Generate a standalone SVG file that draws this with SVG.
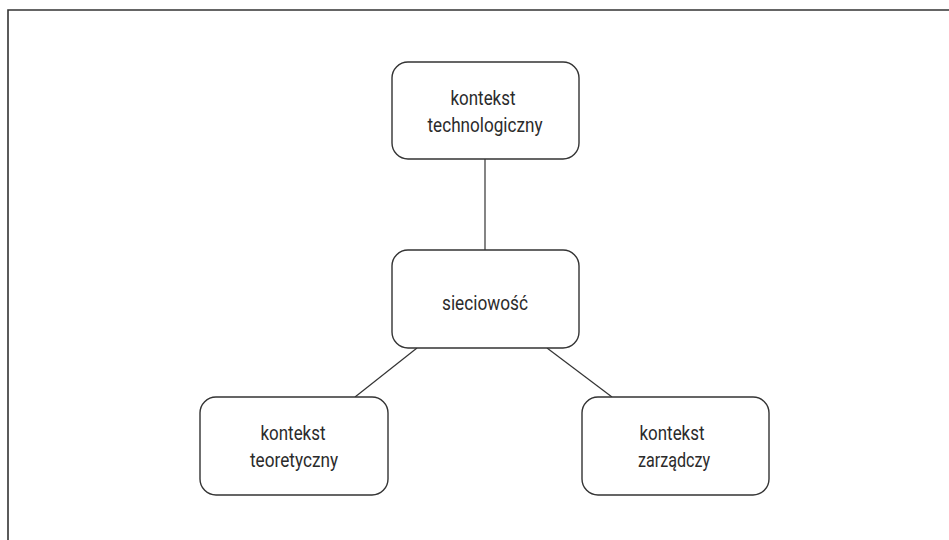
<svg xmlns="http://www.w3.org/2000/svg" width="949" height="540" viewBox="0 0 949 540">
  <style>
    .box { fill: #ffffff; stroke: #333333; stroke-width: 1.4; }
    .edge { stroke: #333333; stroke-width: 1.2; fill: none; }
    .frame { stroke: #333333; stroke-width: 1.6; fill: none; }
    .label { font-family: Roboto, "Liberation Sans", sans-serif; font-size: 20px; fill: #2b2b2b; text-anchor: middle; }
  </style>
  <rect width="949" height="540" fill="#ffffff"/>
  <path class="frame" d="M8 540 V10 H949"/>

  <g id="connectors">
    <line class="edge" x1="485" y1="159" x2="485" y2="250"/>
    <line class="edge" x1="417" y1="348" x2="355" y2="397"/>
    <line class="edge" x1="547" y1="348" x2="612" y2="397"/>
  </g>

  <g id="technologiczny">
    <rect class="box" x="392" y="62" width="187" height="97" rx="16"/>
    <text class="label" x="483" y="105" textLength="65" lengthAdjust="spacingAndGlyphs">kontekst</text>
    <text class="label" x="485" y="132" textLength="115" lengthAdjust="spacingAndGlyphs">technologiczny</text>
  </g>

  <g id="sieciowosc">
    <rect class="box" x="392" y="250" width="187" height="98" rx="16"/>
    <text class="label" x="485" y="310" textLength="86" lengthAdjust="spacingAndGlyphs">sieciowość</text>
  </g>

  <g id="teoretyczny">
    <rect class="box" x="200" y="397" width="188" height="98" rx="16"/>
    <text class="label" x="293" y="440" textLength="65" lengthAdjust="spacingAndGlyphs">kontekst</text>
    <text class="label" x="294" y="467" textLength="88" lengthAdjust="spacingAndGlyphs">teoretyczny</text>
  </g>

  <g id="zarzadczy">
    <rect class="box" x="582" y="397" width="187" height="98" rx="16"/>
    <text class="label" x="672" y="440" textLength="65" lengthAdjust="spacingAndGlyphs">kontekst</text>
    <text class="label" x="674" y="467" textLength="72" lengthAdjust="spacingAndGlyphs">zarządczy</text>
  </g>
</svg>
